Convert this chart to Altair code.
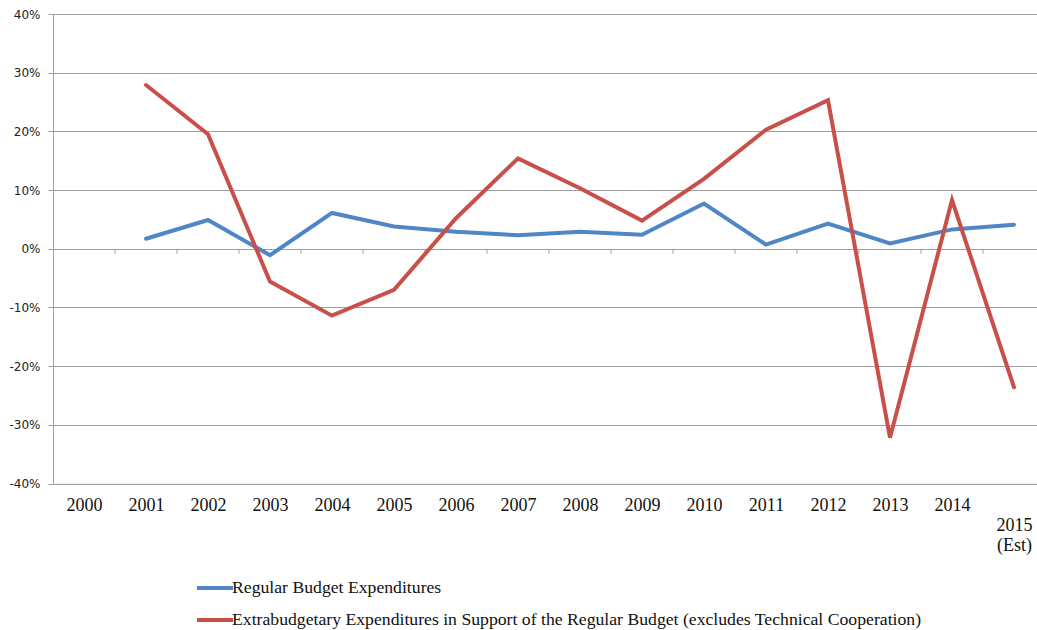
import altair as alt
import pandas as pd

years = list(range(2001, 2016))
regular = [1.7, 4.9, -1.1, 6.1, 3.8, 2.9, 2.3, 2.9, 2.4, 7.7, 0.7, 4.3, 0.9, 3.3, 4.1]
extra = [27.9, 19.5, -5.6, -11.4, -7.0, 5.2, 15.4, 10.3, 4.8, 11.9, 20.3, 25.3, -32.2, 8.3, -23.6]
series_names = [
    "Regular Budget Expenditures",
    "Extrabudgetary Expenditures in Support of the Regular Budget (excludes Technical Cooperation)",
]
series_colors = ["#4F86C6", "#C9504A"]
x_tick_values = list(range(2000, 2016))
boundaries = [y + 0.5 for y in range(2000, 2015)]
y_tick_values = [-0.4, -0.3, -0.2, -0.1, 0.0, 0.1, 0.2, 0.3, 0.4]

rows = []
for name, vals in zip(series_names, [regular, extra]):
    for yr, v in zip(years, vals):
        rows.append({"year": yr, "value": v / 100.0, "series": name})
df = pd.DataFrame(rows)
bdf = pd.DataFrame({"b": boundaries})

xscale = alt.Scale(domain=[1999.5, 2015.371], nice=False, zero=False)
yscale = alt.Scale(domain=[-0.4, 0.4], nice=False)

lines = alt.Chart(df).mark_line(strokeWidth=4, strokeCap="round", strokeJoin="miter").encode(
    x=alt.X("year:Q", scale=xscale, title=None,
            axis=alt.Axis(values=x_tick_values, format="d", grid=False, ticks=False, domain=False,
                          labelFont="Liberation Serif", labelFontSize=18, labelColor="#111111",
                          labelPadding=13, labelBaseline="top", labelLineHeight=20,
                          labelFlush=False, labelOverlap=False,
                          labelExpr="datum.value == 2015 ? ['', '2015', '(Est)'] : datum.label")),
    y=alt.Y("value:Q", scale=yscale, title=None,
            axis=alt.Axis(values=y_tick_values, format=".0%", grid=True, gridColor="#A0A0A0",
                          gridWidth=1, domainColor="#A0A0A0", tickColor="#A0A0A0", tickSize=5,
                          labelFont="DejaVu Sans", labelFontSize=12, labelColor="#222222",
                          labelPadding=8, labelExpr="replace(datum.label, '\u2212', '-')")),
    color=alt.Color("series:N", scale=alt.Scale(domain=series_names, range=series_colors),
                    legend=alt.Legend(orient="none", legendX=151, legendY=563, title=None,
                                      direction="vertical",
                                      symbolType="M-2,0H2", symbolSize=324, symbolStrokeWidth=4,
                                      labelFont="Liberation Serif", labelFontSize=17.7,
                                      labelColor="#111111", labelOffset=6, rowPadding=12,
                                      padding=0, labelLimit=900)),
)

ticks = alt.Chart(bdf).mark_rule(color="#A0A0A0", strokeWidth=1).encode(
    x=alt.X("b:Q", scale=xscale),
    y=alt.datum(0.0, scale=yscale),
    y2=alt.datum(-0.0085),
)

chart = alt.layer(ticks, lines).properties(
    width=984, height=469.5,
    padding={"left": 53, "top": 14, "right": 0, "bottom": 146},
    autosize=alt.AutoSizeParams(type="none"),
).configure_view(stroke=None).configure(background="white")

chart.save("out.html", embed_options={"renderer": "svg", "actions": False})
